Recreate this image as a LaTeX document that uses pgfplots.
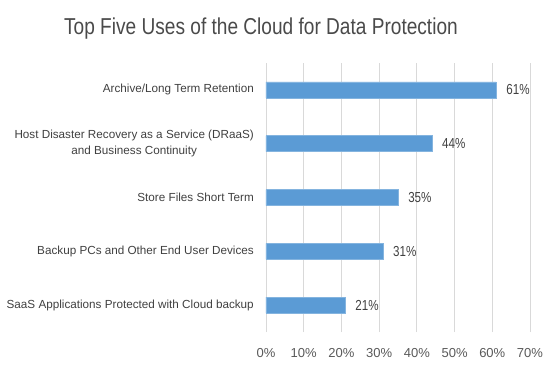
\documentclass[border=0pt]{standalone}
\usepackage{pgfplots}
\pgfplotsset{compat=1.18}
\usepackage{fontspec}
\setmainfont{Liberation Sans}
\newfontfamily\titlefont{Liberation Sans}[FakeStretch=0.83]
\newfontfamily\datafont{Liberation Sans}[FakeStretch=0.8]
\definecolor{barblue}{HTML}{5B9BD5}
\definecolor{txtgray}{HTML}{595959}
\definecolor{titlegray}{HTML}{4A4A4A}
\definecolor{lblgray}{HTML}{404040}
\definecolor{gridgray}{HTML}{D9D9D9}
\begin{document}
\begin{tikzpicture}
\useasboundingbox (-266pt,-35pt) rectangle (291pt,332pt);
\begin{axis}[
  at={(0,0)}, anchor=south west,
  scale only axis,
  width=264pt, height=269pt,
  xbar, bar width=16pt,
  xmin=0, xmax=70,
  ymin=-0.5, ymax=4.5,
  xtick={0,10,...,70},
  xticklabels={0\%,10\%,20\%,30\%,40\%,50\%,60\%,70\%},
  ytick={0,1,2,3,4},
  yticklabels={SaaS Applications Protected with Cloud backup,
    Backup PCs and Other End User Devices,
    Store Files Short Term,
    {Host Disaster Recovery as a Service (DRaaS)\\and Business Continuity},
    Archive/Long Term Retention},
  yticklabel style={align=center, font=\fontsize{11.7}{16}\selectfont, text=lblgray, inner sep=0pt, anchor=east, xshift=-12pt},
  xticklabel style={font=\fontsize{13}{14}\selectfont, text=txtgray, anchor=base, inner sep=0pt, yshift=-25.3pt},
  major tick length=0pt,
  axis line style={draw=none},
  xmajorgrids, grid style={gridgray, line width=0.75pt},
  /pgf/number format/assume math mode=true,
  nodes near coords={\pgfmathprintnumber{\pgfplotspointmeta}\%},
  nodes near coords style={font=\datafont\fontsize{14.5}{15}\selectfont, text=lblgray, anchor=west, inner sep=0pt, xshift=10pt},
  clip=false,
]
\addplot[fill=barblue, draw=barblue!75!white, line width=0.6pt] coordinates {(21,0) (31,1) (35,2) (44,3) (61,4)};
\end{axis}
\node[anchor=base, text=titlegray, font=\titlefont\fontsize{23}{24}\selectfont, inner sep=0pt] at (-5pt,297.7pt) {Top Five Uses of the Cloud for Data Protection};
\end{tikzpicture}
\end{document}
